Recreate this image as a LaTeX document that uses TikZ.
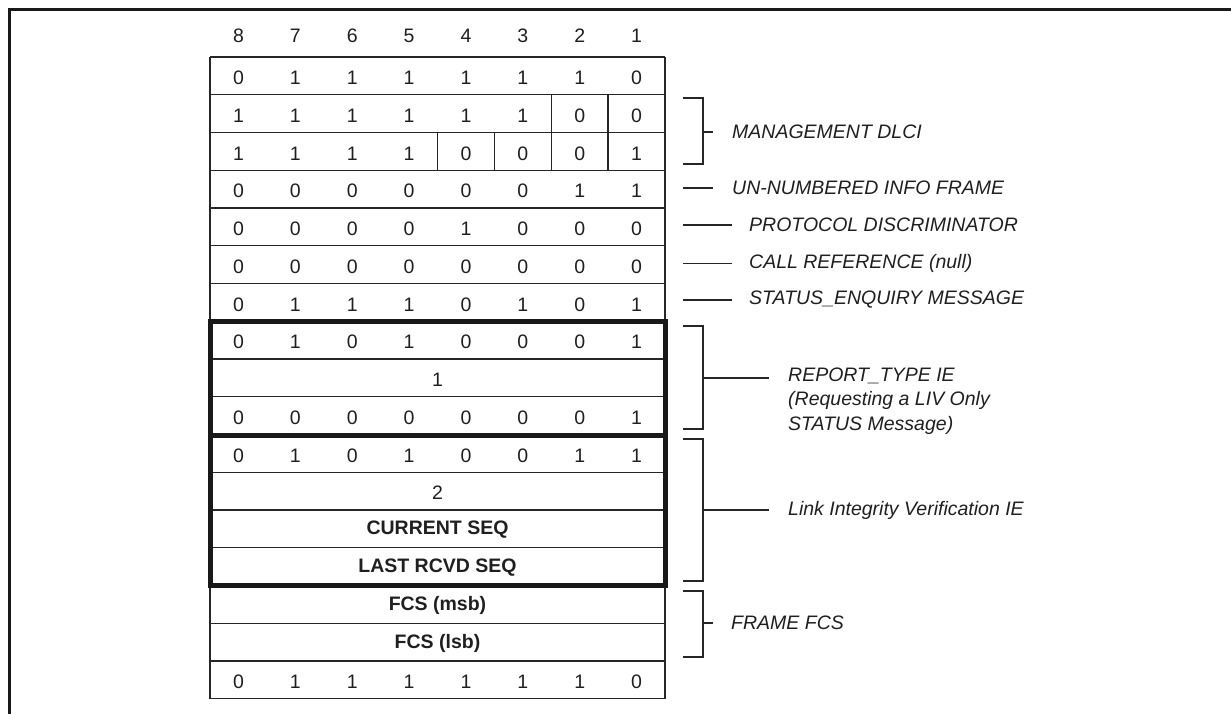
\documentclass[tikz,border=0pt]{standalone}
\usepackage{fontspec}
\setmainfont{Liberation Sans}
\usetikzlibrary{positioning}

% centre of table row #1 (rows counted from the top, 37.75 units high)
\newcommand{\rowc}[1]{57+(#1-0.5)*37.75}
% x of the centre of bit column #1 (1 = bit 8 on the left)
\newcommand{\colc}[1]{210+(#1-0.5)*56.875}

\begin{document}
\begin{tikzpicture}[
		x = 1pt, y = -1pt, % one unit per pixel, y going down
		font = \fontsize{19.5}{24.5}\selectfont,
		text = black!88,
		node distance = 17pt,
		line join = miter
		]
		
		\tikzstyle{bit}=[inner sep = 0pt, anchor = center]
		\tikzstyle{field}=[bit, font = \fontsize{19.5}{24.5}\selectfont\bfseries]
		\tikzstyle{note}=[
		anchor = west,
		inner sep = 2pt,
		align = left,
		font = \fontsize{19.5}{24.5}\selectfont\itshape
		]
		\tikzstyle{rule}=[draw = black!85, line width = 1.3pt]
		\tikzstyle{ie}=[draw = black!90, line width = 5pt]
		\tikzstyle{bracket}=[draw = black!85, line width = 1.6pt]
		
		\useasboundingbox (0,0) rectangle (1231,714);
		
		% outer frame, open to the right and below
		\draw[line width = 3pt, black!90] (9,714) -- (9,10) -- (1231,10);
		
		% bit numbers
		\foreach \n [count=\c] in {8,7,6,5,4,3,2,1}
		\node[bit] (h\n) at ({\colc{\c}}, 36) {\n};
		
		% table lines
		\foreach \r in {0,...,17}
		\draw[rule] (210, {57+\r*37.75}) -- (665, {57+\r*37.75});
		\draw[rule] (210,57) -- (210,698.75);
		\draw[rule] (665,57) -- (665,698.75);
		\foreach \x in {551.25, 608.125}
		\draw[rule] (\x,94.75) -- (\x,132.5);
		\foreach \x in {437.5, 494.375, 551.25, 608.125}
		\draw[rule] (\x,132.5) -- (\x,170.25);
		
		% bit rows
		\foreach \r/\bits in {
			1/{0,1,1,1,1,1,1,0},
			2/{1,1,1,1,1,1,0,0},
			3/{1,1,1,1,0,0,0,1},
			4/{0,0,0,0,0,0,1,1},
			5/{0,0,0,0,1,0,0,0},
			6/{0,0,0,0,0,0,0,0},
			7/{0,1,1,1,0,1,0,1},
			8/{0,1,0,1,0,0,0,1},
			10/{0,0,0,0,0,0,0,1},
			11/{0,1,0,1,0,0,1,1},
			17/{0,1,1,1,1,1,1,0}}
		\foreach \b [count=\c] in \bits
		\node[bit] (b\r-\c) at ({\colc{\c}}, {\rowc{\r}+2}) {\b};
		
		% whole-octet fields
		\node[bit] (f9) at (437.5, {\rowc{9}+2}) {1};
		\node[bit] (f12) at (437.5, {\rowc{12}+2}) {2};
		\node[field] (f13) at (437.5, {\rowc{13}+1}) {CURRENT SEQ};
		\node[field] (f14) at (437.5, {\rowc{14}+1}) {LAST RCVD SEQ};
		\node[field] (f15) at (437.5, {\rowc{15}+1}) {FCS (msb)};
		\node[field] (f16) at (437.5, {\rowc{16}+1}) {FCS (lsb)};
		
		% information elements
		\draw[ie] (210,321.5) rectangle (665,435);
		\draw[ie] (210,435) rectangle (665,585.5);
		
		% labels on the right
		\draw[bracket] (683,98) -- (703,98) -- (703,164) -- (683,164);
		\coordinate (mgmt-b) at (703,132);
		\coordinate (mgmt-e) at (713,132);
		\node[note, right = of mgmt-e] (mgmt) {MANAGEMENT DLCI};
		\draw[bracket] (mgmt-b) -- (mgmt-e);
		
		\coordinate (ui-b) at (683,188);
		\coordinate (ui-e) at (713,188);
		\node[note, right = of ui-e] (ui) {UN-NUMBERED INFO FRAME};
		\draw[bracket] (ui-b) -- (ui-e);
		
		\coordinate (pd-b) at (683,225);
		\coordinate (pd-e) at (732,225);
		\node[note, right = 15pt of pd-e] (pd) {PROTOCOL DISCRIMINATOR};
		\draw[bracket] (pd-b) -- (pd-e);
		
		\coordinate (cr-b) at (683,263);
		\coordinate (cr-e) at (732,263);
		\node[note, right = 15pt of cr-e] (cr) {CALL REFERENCE (null)};
		\draw[bracket, line width = 0.8pt] (cr-b) -- (cr-e);
		
		\coordinate (se-b) at (683,300);
		\coordinate (se-e) at (732,300);
		\node[note, right = 15pt of se-e] (se) {STATUS\_ENQUIRY MESSAGE};
		\draw[bracket] (se-b) -- (se-e);
		
		\draw[bracket] (683,326) -- (703,326) -- (703,429) -- (683,429);
		\coordinate (rt-b) at (703,378);
		\coordinate (rt-e) at (769,378);
		\node[note, right = of rt-e, yshift = -23pt] (rt)
		{REPORT\_TYPE IE\\(Requesting a LIV Only\\STATUS Message)};
		\draw[bracket, line width = 1.2pt] (rt-b) -- (rt-e);
		
		\draw[bracket] (683,439) -- (703,439) -- (703,581) -- (683,581);
		\coordinate (liv-b) at (703,510);
		\coordinate (liv-e) at (769,510);
		\node[note, right = of liv-e] (liv) {Link Integrity Verification IE};
		\draw[bracket, line width = 1.2pt] (liv-b) -- (liv-e);
		
		\draw[bracket] (683,591) -- (703,591) -- (703,657) -- (683,657);
		\coordinate (fcs-b) at (703,623);
		\coordinate (fcs-e) at (713,623);
		\node[note, right = 16pt of fcs-e] (fcs) {FRAME FCS};
		\draw[bracket] (fcs-b) -- (fcs-e);
		
		\end{tikzpicture}
\end{document}
